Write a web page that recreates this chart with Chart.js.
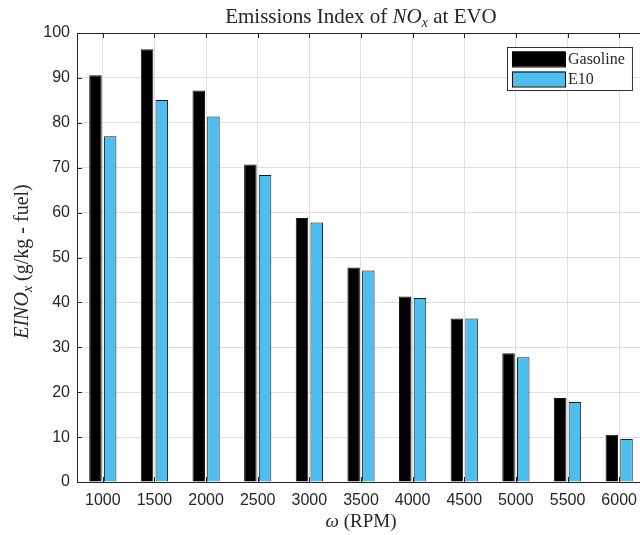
<!DOCTYPE html>
<html lang="en">
<head>
    <meta charset="UTF-8">
    <title>Emissions Index of NOx at EVO</title>
    <script src="https://cdn.jsdelivr.net/npm/chart.js"></script>
    <style>
        html, body { margin: 0; padding: 0; background: #fff; overflow: hidden; }
        #wrap { width: 646px; height: 535px; }
    </style>
</head>
<body>
    <div id="wrap">
        <canvas id="noxChart" width="646" height="535"></canvas>
    </div>

    <script>
        // Engine speeds (x axis categories)
        const rpm = ['1000', '1500', '2000', '2500', '3000', '3500', '4000', '4500', '5000', '5500', '6000'];

        // EINOx values, g/kg-fuel
        const gasoline = [90.6, 96.4, 87.2, 70.7, 58.8, 47.8, 41.3, 36.4, 28.7, 18.7, 10.5];
        const e10 = [77.0, 85.1, 81.4, 68.4, 57.8, 47.1, 41.0, 36.4, 27.8, 17.8, 9.6];

        const yMin = 0, yMax = 100, yStep = 10;

        const axisColor = '#262626';
        const gridColor = '#dfdfdf';
        const tickFont = { family: '"Liberation Sans", Arial, sans-serif', size: 16 };
        const serif = '"Liberation Serif", "Times New Roman", serif';

        // draws a row of text pieces with their own fonts, centred on x
        function drawParts(ctx, parts, x, y) {
            let total = 0;
            parts.forEach(p => { ctx.font = p.font; total += ctx.measureText(p.text).width; });
            let cx = x - total / 2;
            parts.forEach(p => {
                ctx.font = p.font;
                ctx.fillText(p.text, cx, y + (p.dy || 0));
                cx += ctx.measureText(p.text).width;
            });
        }

        const decorations = {
            id: 'decorations',
            afterDraw(chart) {
                const ctx = chart.ctx;
                const area = chart.chartArea;
                const xs = chart.scales.x, ys = chart.scales.y;
                ctx.save();

                // box top edge + inward ticks like MATLAB
                ctx.strokeStyle = axisColor;
                ctx.lineWidth = 1;
                ctx.beginPath();
                ctx.moveTo(area.left, area.top + 0.5);
                ctx.lineTo(area.right, area.top + 0.5);
                ctx.moveTo(area.right - 0.5, area.top);
                ctx.lineTo(area.right - 0.5, area.bottom);
                xs.ticks.forEach((t, i) => {
                    const px = Math.round(xs.getPixelForTick(i)) + 0.5;
                    ctx.moveTo(px, area.bottom);
                    ctx.lineTo(px, area.bottom - 5);
                    ctx.moveTo(px, area.top);
                    ctx.lineTo(px, area.top + 5);
                });
                ys.ticks.forEach(t => {
                    const py = Math.round(ys.getPixelForValue(t.value)) + 0.5;
                    ctx.moveTo(area.left, py);
                    ctx.lineTo(area.left + 5, py);
                });
                ctx.stroke();

                // title and axis labels
                ctx.fillStyle = axisColor;
                ctx.textBaseline = 'alphabetic';
                const midX = (area.left + area.right) / 2;
                const midY = (area.top + area.bottom) / 2;
                drawParts(ctx, [
                    { text: 'Emissions Index of ', font: '21px ' + serif },
                    { text: 'NO', font: 'italic 21px ' + serif },
                    { text: 'x', font: 'italic 14px ' + serif, dy: 4 },
                    { text: ' at EVO', font: '21px ' + serif }
                ], midX, 23);

                drawParts(ctx, [
                    { text: 'ω', font: 'italic 19px ' + serif },
                    { text: ' (RPM)', font: '19px ' + serif }
                ], midX, 527);

                ctx.save();
                ctx.translate(28, midY + 4);
                ctx.rotate(-Math.PI / 2);
                drawParts(ctx, [
                    { text: 'EINO', font: 'italic 20px ' + serif },
                    { text: 'x', font: 'italic 14px ' + serif, dy: 4 },
                    { text: ' (g/kg - fuel)', font: '20px ' + serif }
                ], 0, 0);
                ctx.restore();

                // legend box in the upper right corner
                const bx = area.right - 138, by = area.top + 14, bw = 125, bh = 43;
                ctx.fillStyle = '#fff';
                ctx.fillRect(bx, by, bw, bh);
                ctx.strokeStyle = '#333';
                ctx.strokeRect(bx + 0.5, by + 0.5, bw, bh);
                chart.data.datasets.forEach((ds, i) => {
                    const sy = by + 4.5 + i * 20;
                    ctx.fillStyle = ds.backgroundColor;
                    ctx.fillRect(bx + 5, sy, 53, 15);
                    ctx.strokeStyle = '#000';
                    ctx.strokeRect(bx + 5.5, sy + 0.5, 53, 15);
                    ctx.fillStyle = axisColor;
                    ctx.font = '16px ' + serif;
                    ctx.textAlign = 'left';
                    ctx.textBaseline = 'middle';
                    ctx.fillText(ds.label, bx + 61, sy + 8);
                });
                ctx.restore();
            }
        };

        const ctx = document.getElementById('noxChart').getContext('2d');
        const noxChart = new Chart(ctx, {
            type: 'bar',
            data: {
                labels: rpm,
                datasets: [
                    {
                        label: 'Gasoline',
                        data: gasoline,
                        backgroundColor: '#000000',
                        borderColor: '#1a1a1a',
                        borderWidth: 1,
                        categoryPercentage: 0.57,
                        barPercentage: 0.85
                    },
                    {
                        label: 'E10',
                        data: e10,
                        backgroundColor: '#4DBEEE',
                        borderColor: '#1a1a1a',
                        borderWidth: 1,
                        categoryPercentage: 0.57,
                        barPercentage: 0.85
                    }
                ]
            },
            options: {
                responsive: false,
                animation: false,
                layout: { padding: { top: 33, right: 1, left: 0, bottom: 0 } },
                plugins: {
                    legend: { display: false },
                    title: { display: false },
                    tooltip: { enabled: false }
                },
                scales: {
                    x: {
                        offset: true,
                        grid: { color: gridColor, drawTicks: false, offset: false },
                        border: { display: true, color: axisColor, width: 1 },
                        ticks: { color: axisColor, font: tickFont, padding: 9, maxRotation: 0, autoSkip: false },
                        afterFit(scale) { scale.height = 53; }
                    },
                    y: {
                        min: yMin,
                        max: yMax,
                        grid: { color: gridColor, drawTicks: false },
                        border: { display: true, color: axisColor, width: 1 },
                        ticks: { color: axisColor, font: tickFont, padding: 7, stepSize: yStep },
                        afterFit(scale) { scale.width = 77; }
                    }
                }
            },
            plugins: [decorations]
        });
    </script>
</body>
</html>
